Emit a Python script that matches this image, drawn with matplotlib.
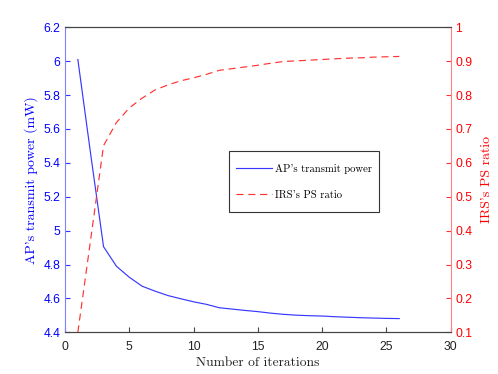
import matplotlib
matplotlib.use("Agg")
import matplotlib.pyplot as plt
from matplotlib.patches import Rectangle

# data
iterations = list(range(1, 27))
ap_power = [6.01, 5.45, 4.905, 4.79, 4.725, 4.672, 4.643, 4.617, 4.598, 4.58,
            4.565, 4.545, 4.537, 4.529, 4.522, 4.513, 4.506, 4.501, 4.498, 4.496,
            4.492, 4.489, 4.486, 4.484, 4.482, 4.481]
ps_ratio = [0.1, 0.375, 0.651, 0.719, 0.762, 0.791, 0.815, 0.830, 0.842, 0.851,
            0.861, 0.873, 0.878, 0.883, 0.888, 0.894, 0.899, 0.901, 0.903, 0.905,
            0.907, 0.909, 0.910, 0.912, 0.913, 0.914]

serif = "cmr10"
sans = "Liberation Sans"

fig = plt.figure(figsize=(4.98, 3.74), dpi=100)
ax = fig.add_axes([0.1305, 0.1115, 0.7745, 0.8155])
ax2 = ax.twinx()

l1, = ax.plot(iterations, ap_power, color="#3838ff", lw=0.85, label="AP's transmit power")
l2, = ax2.plot(iterations, ps_ratio, color="#ff3333", lw=0.85, ls=(0, (6, 4)), label="IRS's PS ratio")

ax.set_xlim(0, 30)
ax.set_ylim(4.4, 6.2)
ax2.set_ylim(0.1, 1.0)
ax.set_xticks(range(0, 31, 5))
ax.set_yticks([4.4, 4.6, 4.8, 5.0, 5.2, 5.4, 5.6, 5.8, 6.0, 6.2])
ax.set_yticklabels(["4.4", "4.6", "4.8", "5", "5.2", "5.4", "5.6", "5.8", "6", "6.2"])
ax2.set_yticks([0.1, 0.2, 0.3, 0.4, 0.5, 0.6, 0.7, 0.8, 0.9, 1.0])
ax2.set_yticklabels(["0.1", "0.2", "0.3", "0.4", "0.5", "0.6", "0.7", "0.8", "0.9", "1"])

for a in (ax, ax2):
    for s in a.spines.values():
        s.set_linewidth(0.8)
    a.spines["top"].set_color("#444444")
    a.spines["bottom"].set_color("#444444")
ax.spines["left"].set_color("#8080ff")
ax2.spines["left"].set_visible(False)
ax2.spines["right"].set_color("#ff8080")
ax.spines["right"].set_visible(False)

ax.tick_params(axis="x", direction="in", length=3.5, colors="#444444", labelcolor="#222222",
               labelsize=8.7, pad=6)
ax.tick_params(axis="y", direction="in", length=3.5, colors="#3333ff", labelcolor="#0000ff",
               labelsize=8.7)
ax2.tick_params(axis="y", direction="in", length=3.5, colors="#ff3333", labelcolor="#ff0000",
                labelsize=8.7)
for lab in ax.get_xticklabels() + ax.get_yticklabels() + ax2.get_yticklabels():
    lab.set_fontfamily(sans)

ax.set_xlabel("Number of iterations", fontfamily=serif, fontsize=9.7, color="#222222", labelpad=3)
ax.set_ylabel("AP's transmit power (mW)", fontfamily=serif, fontsize=10, color="#0000ff", labelpad=4)
ax2.set_ylabel("IRS's PS ratio", fontfamily=serif, fontsize=10, color="#ff0000", labelpad=6)

# legend box (MATLAB style, taller than wide padding)
ax2.add_patch(Rectangle((0.4252, 0.3934), 0.3888, 0.201, transform=ax2.transAxes,
                        facecolor="white", edgecolor="#333333", lw=0.8, zorder=5))
leg = ax2.legend(handles=[l1, l2], loc="center", bbox_to_anchor=(0.6196, 0.4939),
                 borderaxespad=0, prop={"family": serif, "size": 7.7}, frameon=False,
                 handlelength=3.3, labelspacing=1.54, borderpad=0, handletextpad=0.3)
leg.set_zorder(6)

fig.savefig("out.png", dpi=100)
